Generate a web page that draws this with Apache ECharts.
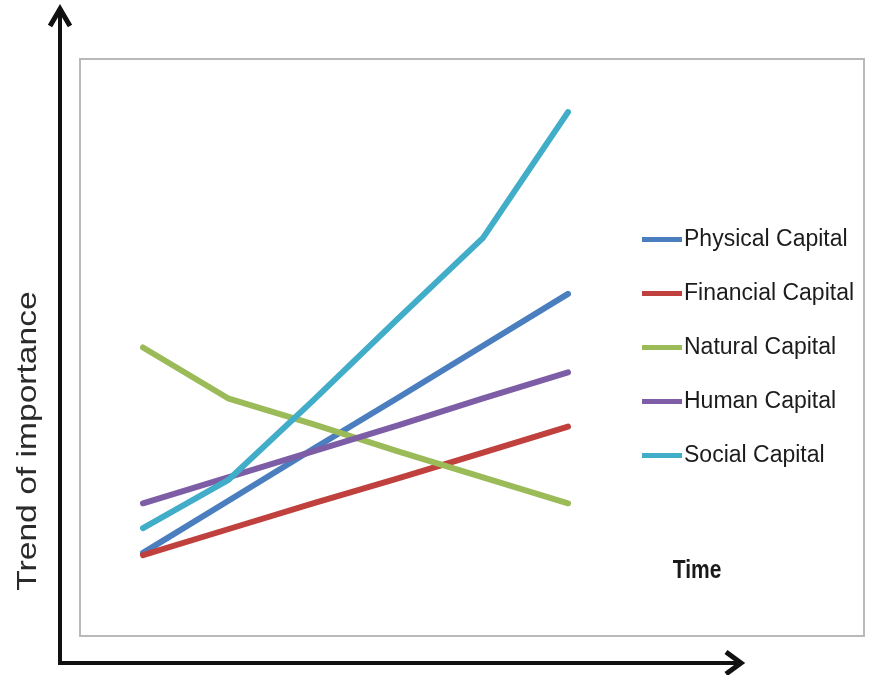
<!DOCTYPE html>
<html>
<head>
<meta charset="utf-8">
<script src="https://cdn.jsdelivr.net/npm/echarts@6/dist/echarts.min.js"></script>
<style>
  html, body { margin: 0; padding: 0; background: #fff; }
  #chart { width: 870px; height: 675px; }
</style>
</head>
<body>
<div id="chart"></div>
<script>
// Time steps along the horizontal axis (no tick labels are shown)
const periods = ['t1', 't2', 't3', 't4', 't5', 't6'];

// Relative importance of each form of capital over time (0-100 scale)
const physicalCapital  = [14.4, 23.4, 32.4, 41.3, 50.3, 59.3];
const financialCapital = [14.0, 18.5, 23.0, 27.3, 31.8, 36.3];
const naturalCapital   = [50.0, 41.2, 36.7, 32.0, 27.5, 23.0];
const humanCapital     = [23.0, 27.5, 32.0, 36.5, 41.2, 45.7];
const socialCapital    = [18.7, 27.0, 40.8, 55.0, 69.0, 90.8];

const seriesNames = ['Physical Capital', 'Financial Capital', 'Natural Capital', 'Human Capital', 'Social Capital'];
const seriesValues = [physicalCapital, financialCapital, naturalCapital, humanCapital, socialCapital];
const seriesColors = ['#4a7ebf', '#c0403d', '#9bbb59', '#7d5ea6', '#41adc8'];

const chart = echarts.init(document.getElementById('chart'), null, { renderer: 'canvas' });

const hiddenAxis = { show: false };

chart.setOption({
  animation: false,
  backgroundColor: '#ffffff',
  grid: [
    // outer frame
    { left: 80, top: 59, width: 784, height: 577, show: true, borderColor: '#b9b9b9', borderWidth: 2, backgroundColor: 'transparent' },
    // plotting area for the trend lines
    { left: 143, top: 59, width: 425, height: 577, show: false }
  ],
  xAxis: [
    Object.assign({ gridIndex: 0, type: 'value', min: 0, max: 1 }, hiddenAxis),
    { gridIndex: 1, type: 'category', data: periods, boundaryGap: false, show: false }
  ],
  yAxis: [
    Object.assign({ gridIndex: 0, type: 'value', min: 0, max: 1 }, hiddenAxis),
    { gridIndex: 1, type: 'value', min: 0, max: 100, show: false }
  ],
  legend: {
    orient: 'vertical',
    left: 637,
    top: 223,
    itemGap: 31,
    itemWidth: 40,
    itemHeight: 5,
    icon: 'rect',
    data: seriesNames,
    textStyle: {
      fontFamily: '"Liberation Sans", Arial, sans-serif',
      fontSize: 23,
      color: '#1c1c1c',
      padding: [0, 0, 0, -3]
    }
  },
  series: seriesNames.map((name, i) => ({
    name: name,
    type: 'line',
    xAxisIndex: 1,
    yAxisIndex: 1,
    data: seriesValues[i],
    symbol: 'none',
    color: seriesColors[i],
    lineStyle: { width: 6, cap: 'round', join: 'round', color: seriesColors[i] }
  })),
  graphic: [
    // vertical axis arrow
    { type: 'line', shape: { x1: 60, y1: 10, x2: 60, y2: 663 }, style: { stroke: '#111', lineWidth: 4 } },
    { type: 'polyline', shape: { points: [[50, 26], [60, 9], [70, 26]] }, style: { stroke: '#111', lineWidth: 5, fill: null, lineJoin: 'miter' } },
    // horizontal axis arrow
    { type: 'line', shape: { x1: 58, y1: 663, x2: 740, y2: 663 }, style: { stroke: '#111', lineWidth: 4 } },
    { type: 'polyline', shape: { points: [[726, 652], [741, 663], [726, 674]] }, style: { stroke: '#111', lineWidth: 5, fill: null, lineJoin: 'miter' } },
    // axis titles
    {
      type: 'text', x: 28, y: 441, rotation: Math.PI / 2, scaleX: 1.2,
      style: { text: 'Trend of importance', fontFamily: '"Liberation Sans", Arial, sans-serif', fontSize: 28, fill: '#2a2a2a', align: 'center', verticalAlign: 'middle' }
    },
    {
      type: 'text', x: 697, y: 571, scaleY: 1.25,
      style: { text: 'Time', fontFamily: '"Liberation Sans", Arial, sans-serif', fontSize: 21, fontWeight: 'bold', fill: '#1a1a1a', align: 'center', verticalAlign: 'middle' }
    }
  ]
});
</script>
</body>
</html>
